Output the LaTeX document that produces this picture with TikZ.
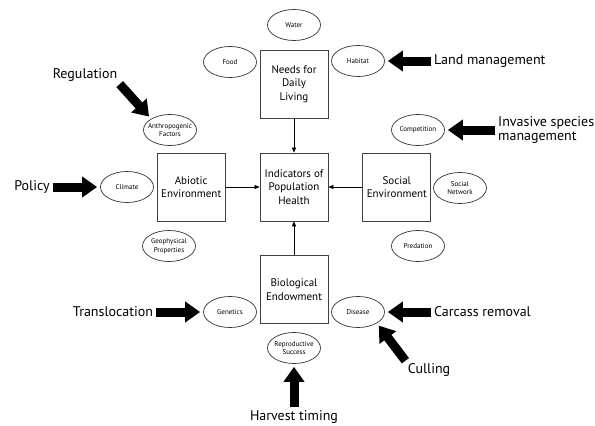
\documentclass[tikz,border=0pt]{standalone}
\usepackage{fontspec}
\setmainfont{PT Sans}
\usetikzlibrary{positioning,shapes.geometric,arrows.meta}

\begin{document}
\begin{tikzpicture}[
    x=1pt, y=-1pt,
    node distance=34pt,
    box/.style={rectangle, draw=black!75, line width=0.8pt, minimum width=68pt, minimum height=68pt, align=center, font=\fontsize{11}{13.5}\selectfont},
    factor/.style={ellipse, draw=black!80, line width=0.7pt, minimum width=53pt, minimum height=31pt, inner xsep=-7pt, inner ysep=0pt, align=center, font=\fontsize{7}{8.5}\selectfont},
    action/.style={font=\fontsize{14}{14.5}\selectfont, inner sep=1pt, align=left},
    link/.style={-{Triangle[length=5pt,width=4pt]}, line width=0.7pt},
    push/.style={-{Triangle[length=15pt,width=20pt]}, line width=9pt, shorten >=3pt, shorten <=2pt}
]
    \useasboundingbox (0,0) rectangle (595,426);

    % Central boxes
    \node[box] (health) at (294,187) {Indicators of\\Population\\Health};
    \node[box, above=of health] (needs) {Needs for\\Daily\\Living};
    \node[box, left=of health] (abiotic) {Abiotic\\Environment};
    \node[box, right=of health] (social) {Social\\Environment};
    \node[box, below=of health] (bio) {Biological\\Endowment};

    % Factors
    \node[factor] (water) at (294,25) {Water};
    \node[factor] (food) at (230,62) {Food};
    \node[factor] (habitat) at (358,61) {Habitat};
    \node[factor] (anthro) at (170,130) {Anthropogenic\\Factors};
    \node[factor] (climate) at (127,187) {Climate};
    \node[factor] (geo) at (169,246) {Geophysical\\Properties};
    \node[factor] (comp) at (418,130) {Competition};
    \node[factor] (network) at (460,188) {Social\\Network};
    \node[factor] (predation) at (418,246) {Predation};
    \node[factor] (genetics) at (230,312) {Genetics};
    \node[factor] (disease) at (358,312) {Disease};
    \node[factor] (repro) at (294,348) {Reproductive\\Success};

    % Management actions
    \node[action, anchor=west] (land) at (433,61) {Land management};
    \node[action, anchor=west] (invasive) at (497,130) {Invasive species\\management};
    \node[action] (regulation) at (85,75) {Regulation};
    \node[action] (policy) at (32,187) {Policy};
    \node[action] (transloc) at (113,312) {Translocation};
    \node[action, anchor=west] (carcass) at (433,312) {Carcass removal};
    \node[action] (culling) at (429,370) {Culling};
    \node[action] (harvest) at (294,417) {Harvest timing};

    % Links
    \draw[link] (needs) -- (health);
    \draw[link] (abiotic) -- (health);
    \draw[link] (social) -- (health);
    \draw[link] (bio) -- (health);

    % Action arrows
    \draw[push] (land) -- (habitat);
    \draw[push] (invasive.west) -- (comp);
    \draw[push] (regulation.south east) -- (anthro.north west);
    \draw[push] (policy) -- (climate);
    \draw[push] (transloc) -- (genetics);
    \draw[push] (carcass) -- (disease);
    \draw[push] (culling.north west) -- (disease.south east);
    \draw[push] (harvest) -- (repro);
\end{tikzpicture}
\end{document}
